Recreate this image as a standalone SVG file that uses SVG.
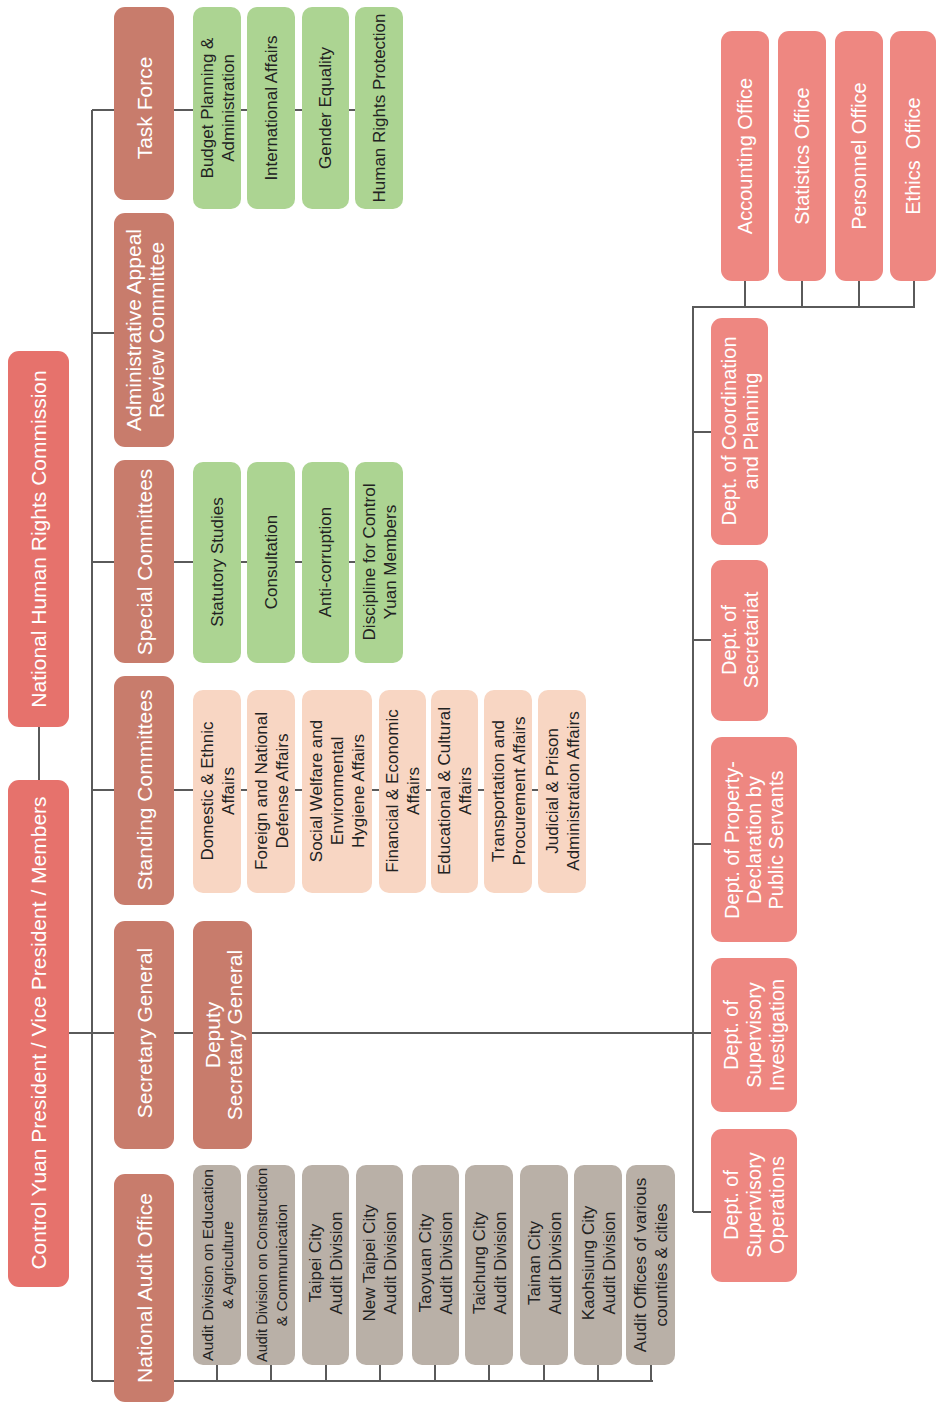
<svg xmlns="http://www.w3.org/2000/svg" width="936" height="1403" viewBox="0 0 936 1403">
<style>
text{font-family:"Liberation Sans",Arial,sans-serif;text-anchor:middle;dominant-baseline:central}
.top{fill:#e6726c}
.sec{fill:#c87c6c}
.grn{fill:#acd492}
.pch{fill:#f8d6c3}
.gry{fill:#b9b0a7}
.dep{fill:#ee8781}
.w{fill:#ffffff;font-size:21px}
.wd{fill:#ffffff;font-size:20px}
.d{fill:#222222;font-size:17px}
.g{fill:#222222;font-size:15.5px}
.ln{stroke:#5a5a5a;stroke-width:2;fill:none}
</style>
<rect width="936" height="1403" fill="#ffffff"/>
<g id="connectors" class="ln">
<path d="M39 727V780"/>
<path d="M69 1033H711"/>
<path d="M92 110V1381"/>
<path d="M92 110H114M92 333H114M92 562H114M92 790H114"/>
<path d="M92 1381H653"/>
<path d="M217 1365V1381M271 1365V1381M326 1365V1381M380 1365V1381M435 1365V1381M489 1365V1381M544 1365V1381M598 1365V1381M651 1365V1381"/>
<path d="M174 110H355"/>
<path d="M174 562H355"/>
<path d="M174 790H538"/>
<path d="M693 307V1212"/>
<path d="M692 307H915"/>
<path d="M745 281V307M802 281V307M859 281V307M914 281V307"/>
<path d="M693 432H711M693 640H711M693 844H711M693 1212H711"/>
</g>
<g id="nhrc"><rect class="top" x="8" y="351" width="61" height="376" rx="11"/><text class="w" transform="translate(38.5,539) rotate(-90)">National Human Rights Commission</text></g>
<g id="cyp"><rect class="top" x="8" y="780" width="61" height="507" rx="11"/><text class="w" transform="translate(38.5,1033) rotate(-90)">Control Yuan President / Vice President / Members</text></g>
<g id="task-force"><rect class="sec" x="114" y="7" width="60" height="193" rx="11"/><text class="w" transform="translate(144,108) rotate(-90)">Task Force</text></g>
<g id="admin-appeal"><rect class="sec" x="114" y="213" width="60" height="234" rx="11"/><text class="w" transform="translate(144,330) rotate(-90)"><tspan x="0" y="-11.5">Administrative Appeal</tspan><tspan x="0" y="11.5">Review Committee</tspan></text></g>
<g id="special-committees"><rect class="sec" x="114" y="460" width="60" height="203" rx="11"/><text class="w" transform="translate(144,562) rotate(-90)">Special Committees</text></g>
<g id="standing-committees"><rect class="sec" x="114" y="676" width="60" height="229" rx="11"/><text class="w" transform="translate(144,790) rotate(-90)">Standing Committees</text></g>
<g id="secretary-general"><rect class="sec" x="114" y="921" width="60" height="228" rx="11"/><text class="w" transform="translate(144,1033) rotate(-90)">Secretary General</text></g>
<g id="deputy-secretary-general"><rect class="sec" x="193" y="921" width="59" height="228" rx="11"/><text class="w" transform="translate(222.5,1035) rotate(-90)"><tspan x="0" y="-11">Deputy</tspan><tspan x="0" y="11">Secretary General</tspan></text></g>
<g id="national-audit-office"><rect class="sec" x="114" y="1174" width="60" height="228" rx="11"/><text class="w" transform="translate(144,1288) rotate(-90)">National Audit Office</text></g>
<g id="tf-budget"><rect class="grn" x="193" y="7" width="48" height="202" rx="10"/><text class="d" transform="translate(217,108) rotate(-90)"><tspan x="0" y="-10.5">Budget Planning &amp;</tspan><tspan x="0" y="10.5">Administration</tspan></text></g>
<g id="tf-international"><rect class="grn" x="247" y="7" width="48" height="202" rx="10"/><text class="d" transform="translate(271,108) rotate(-90)">International Affairs</text></g>
<g id="tf-gender"><rect class="grn" x="302" y="7" width="47" height="202" rx="10"/><text class="d" transform="translate(325.5,108) rotate(-90)">Gender Equality</text></g>
<g id="tf-human-rights"><rect class="grn" x="355" y="7" width="48" height="202" rx="10"/><text class="d" transform="translate(379,108) rotate(-90)">Human Rights Protection</text></g>
<g id="sc-statutory"><rect class="grn" x="193" y="462" width="48" height="201" rx="10"/><text class="d" transform="translate(217,562) rotate(-90)">Statutory Studies</text></g>
<g id="sc-consultation"><rect class="grn" x="247" y="462" width="48" height="201" rx="10"/><text class="d" transform="translate(271,562) rotate(-90)">Consultation</text></g>
<g id="sc-anticorruption"><rect class="grn" x="302" y="462" width="47" height="201" rx="10"/><text class="d" transform="translate(325.5,562) rotate(-90)">Anti-corruption</text></g>
<g id="sc-discipline"><rect class="grn" x="355" y="462" width="48" height="201" rx="10"/><text class="d" transform="translate(379,562) rotate(-90)"><tspan x="0" y="-10.5">Discipline for Control</tspan><tspan x="0" y="10.5">Yuan Members</tspan></text></g>
<g id="st-domestic"><rect class="pch" x="193" y="690" width="48" height="203" rx="10"/><text class="d" transform="translate(217,791) rotate(-90)"><tspan x="0" y="-10.5">Domestic &amp; Ethnic</tspan><tspan x="0" y="10.5">Affairs</tspan></text></g>
<g id="st-foreign"><rect class="pch" x="247" y="690" width="48" height="203" rx="10"/><text class="d" transform="translate(271,791) rotate(-90)"><tspan x="0" y="-10.5">Foreign and National</tspan><tspan x="0" y="10.5">Defense Affairs</tspan></text></g>
<g id="st-social"><rect class="pch" x="302" y="690" width="70" height="203" rx="10"/><text class="d" transform="translate(337,791) rotate(-90)"><tspan x="0" y="-21">Social Welfare and</tspan><tspan x="0" y="0">Environmental</tspan><tspan x="0" y="21">Hygiene Affairs</tspan></text></g>
<g id="st-financial"><rect class="pch" x="379" y="690" width="47" height="203" rx="10"/><text class="d" transform="translate(402.5,791) rotate(-90)"><tspan x="0" y="-10.5">Financial &amp; Economic</tspan><tspan x="0" y="10.5">Affairs</tspan></text></g>
<g id="st-educational"><rect class="pch" x="431" y="690" width="47" height="203" rx="10"/><text class="d" transform="translate(454.5,791) rotate(-90)"><tspan x="0" y="-10.5">Educational &amp; Cultural</tspan><tspan x="0" y="10.5">Affairs</tspan></text></g>
<g id="st-transportation"><rect class="pch" x="484" y="690" width="48" height="203" rx="10"/><text class="d" transform="translate(508,791) rotate(-90)"><tspan x="0" y="-10.5">Transportation and</tspan><tspan x="0" y="10.5">Procurement Affairs</tspan></text></g>
<g id="st-judicial"><rect class="pch" x="538" y="690" width="48" height="203" rx="10"/><text class="d" transform="translate(562,791) rotate(-90)"><tspan x="0" y="-10.5">Judicial &amp; Prison</tspan><tspan x="0" y="10.5">Administration Affairs</tspan></text></g>
<g id="nao-education"><rect class="gry" x="193" y="1165" width="48" height="200" rx="10"/><text class="g" transform="translate(217,1265) rotate(-90)"><tspan x="0" y="-10" textLength="192" lengthAdjust="spacingAndGlyphs">Audit Division on Education</tspan><tspan x="0" y="10">&amp; Agriculture</tspan></text></g>
<g id="nao-construction"><rect class="gry" x="247" y="1165" width="48" height="200" rx="10"/><text class="g" transform="translate(271,1265) rotate(-90)"><tspan x="0" y="-10" textLength="194" lengthAdjust="spacingAndGlyphs">Audit Division on Construction</tspan><tspan x="0" y="10">&amp; Communication</tspan></text></g>
<g id="nao-taipei"><rect class="gry" x="302" y="1165" width="47" height="200" rx="10"/><text class="d" transform="translate(325.5,1263) rotate(-90)"><tspan x="0" y="-10.5">Taipei City</tspan><tspan x="0" y="10.5">Audit Division</tspan></text></g>
<g id="nao-new-taipei"><rect class="gry" x="356" y="1165" width="47" height="200" rx="10"/><text class="d" transform="translate(379.5,1263) rotate(-90)"><tspan x="0" y="-10.5">New Taipei City</tspan><tspan x="0" y="10.5">Audit Division</tspan></text></g>
<g id="nao-taoyuan"><rect class="gry" x="412" y="1165" width="47" height="200" rx="10"/><text class="d" transform="translate(435.5,1263) rotate(-90)"><tspan x="0" y="-10.5">Taoyuan City</tspan><tspan x="0" y="10.5">Audit Division</tspan></text></g>
<g id="nao-taichung"><rect class="gry" x="465" y="1165" width="48" height="200" rx="10"/><text class="d" transform="translate(489,1263) rotate(-90)"><tspan x="0" y="-10.5">Taichung City</tspan><tspan x="0" y="10.5">Audit Division</tspan></text></g>
<g id="nao-tainan"><rect class="gry" x="520" y="1165" width="48" height="200" rx="10"/><text class="d" transform="translate(544,1263) rotate(-90)"><tspan x="0" y="-10.5">Tainan City</tspan><tspan x="0" y="10.5">Audit Division</tspan></text></g>
<g id="nao-kaohsiung"><rect class="gry" x="574" y="1165" width="48" height="200" rx="10"/><text class="d" transform="translate(598,1263) rotate(-90)"><tspan x="0" y="-10.5">Kaohsiung City</tspan><tspan x="0" y="10.5">Audit Division</tspan></text></g>
<g id="nao-counties"><rect class="gry" x="626" y="1165" width="49" height="200" rx="10"/><text class="d" transform="translate(650.5,1265) rotate(-90)"><tspan x="0" y="-10.5">Audit Offices of various</tspan><tspan x="0" y="10.5">counties &amp; cities</tspan></text></g>
<g id="dept-coordination"><rect class="dep" x="711" y="318" width="57" height="227" rx="11"/><text class="wd" transform="translate(739.5,431) rotate(-90)"><tspan x="0" y="-11">Dept. of Coordination</tspan><tspan x="0" y="11">and Planning</tspan></text></g>
<g id="dept-secretariat"><rect class="dep" x="711" y="560" width="57" height="161" rx="11"/><text class="wd" transform="translate(739.5,640) rotate(-90)"><tspan x="0" y="-11">Dept. of</tspan><tspan x="0" y="11">Secretariat</tspan></text></g>
<g id="dept-property"><rect class="dep" x="711" y="737" width="86" height="205" rx="11"/><text class="wd" transform="translate(754,840) rotate(-90)"><tspan x="0" y="-22">Dept. of Property-</tspan><tspan x="0" y="0">Declaration by</tspan><tspan x="0" y="22">Public Servants</tspan></text></g>
<g id="dept-investigation"><rect class="dep" x="711" y="958" width="86" height="154" rx="11"/><text class="wd" transform="translate(754,1035) rotate(-90)"><tspan x="0" y="-23">Dept. of</tspan><tspan x="0" y="0">Supervisory</tspan><tspan x="0" y="23">Investigation</tspan></text></g>
<g id="dept-operations"><rect class="dep" x="711" y="1129" width="86" height="153" rx="11"/><text class="wd" transform="translate(754,1205) rotate(-90)"><tspan x="0" y="-23">Dept. of</tspan><tspan x="0" y="0">Supervisory</tspan><tspan x="0" y="23">Operations</tspan></text></g>
<g id="accounting-office"><rect class="dep" x="721" y="31" width="48" height="250" rx="11"/><text class="wd" transform="translate(745,156) rotate(-90)">Accounting Office</text></g>
<g id="statistics-office"><rect class="dep" x="778" y="31" width="48" height="250" rx="11"/><text class="wd" transform="translate(802,156) rotate(-90)">Statistics Office</text></g>
<g id="personnel-office"><rect class="dep" x="835" y="31" width="48" height="250" rx="11"/><text class="wd" transform="translate(859,156) rotate(-90)">Personnel Office</text></g>
<g id="ethics-office"><rect class="dep" x="890" y="31" width="46" height="250" rx="11"/><text class="wd" style="white-space:pre" transform="translate(913,156) rotate(-90)">Ethics  Office</text></g>
</svg>
